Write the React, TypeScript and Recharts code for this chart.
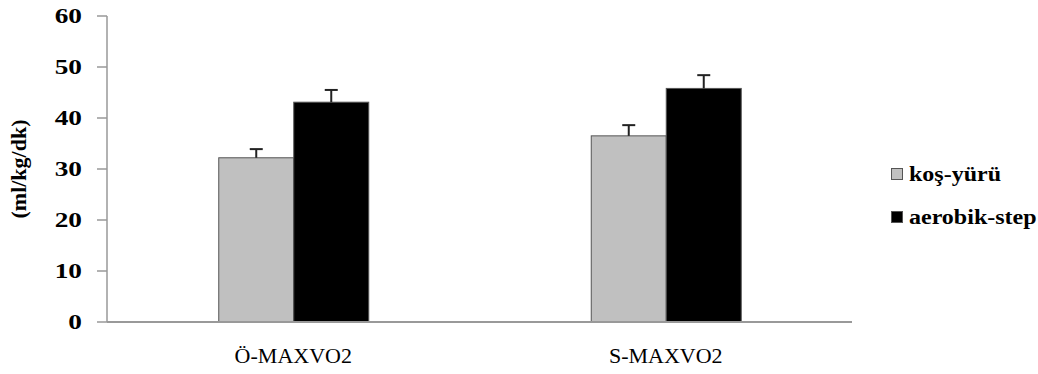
import React from "react";
import { BarChart, Bar, XAxis, YAxis, Legend } from "recharts";

const categories = ["Ö-MAXVO2", "S-MAXVO2"];
const kosYuru = [32.2, 36.5];
const kosYuruErr = [1.7, 2.1];
const aerobikStep = [43.1, 45.8];
const aerobikStepErr = [2.4, 2.6];
const yTicks = [0, 10, 20, 30, 40, 50, 60];
const seriesNames = ["koş-yürü", "aerobik-step"];

const data = categories.map((c, i) => ({
  name: c,
  a: kosYuru[i],
  aErr: kosYuruErr[i],
  b: aerobikStep[i],
  bErr: aerobikStepErr[i],
}));

const FONT = "'Liberation Serif', 'Times New Roman', serif";

const YTick = (props: any) => {
  const { x, y, payload } = props;
  return (
    <g transform={`translate(${x},${y}) scale(1.3,1)`}>
      <text x={0} y={0} dy={7} textAnchor="end" fontFamily={FONT} fontWeight="bold" fontSize={21} fill="#000">
        {payload.value}
      </text>
    </g>
  );
};

const XTick = (props: any) => {
  const { x, y, payload } = props;
  return (
    <g transform={`translate(${x},${y}) scale(1.1,1)`}>
      <text x={0} y={0} dy={33} textAnchor="middle" fontFamily={FONT} fontSize={20} fill="#000">
        {payload.value}
      </text>
    </g>
  );
};

const YLabel = (props: any) => {
  const { viewBox } = props;
  const cy = viewBox.y + viewBox.height / 2;
  return (
    <text
      x={26}
      y={cy}
      transform={`rotate(-90, 26, ${cy})`}
      textAnchor="middle"
      fontFamily={FONT}
      fontWeight="bold"
      fontSize={22}
      fill="#000"
    >
      (ml/kg/dk)
    </text>
  );
};

const colors = ["#c0c0c0", "#000000"];

// Bar with an upward-only error whisker; whisker length uses the bar's own pixel scale
const makeShape = (errKey: string, valueKey: string) => (props: any) => {
  const { x, y, width, height, fill, payload } = props;
  const value = payload[valueKey];
  const err = payload[errKey];
  const pxPerUnit = value ? height / value : 0;
  const cx = x + width / 2;
  const top = y - err * pxPerUnit;
  return (
    <g>
      <rect x={x} y={y} width={width} height={height} fill={fill} stroke="#555" strokeWidth={1} />
      <line x1={cx} y1={y} x2={cx} y2={top} stroke="#222" strokeWidth={2} />
      <line x1={cx - 6.5} y1={top} x2={cx + 6.5} y2={top} stroke="#222" strokeWidth={2} />
    </g>
  );
};

const LegendContent = () => (
  <div style={{ fontFamily: FONT, fontWeight: "bold", fontSize: 20, color: "#000" }}>
    {seriesNames.map((n, i) => (
      <div key={n} style={{ display: "flex", alignItems: "center", height: 22, marginBottom: i === 0 ? 21 : 0 }}>
        <span
          style={{
            display: "inline-block",
            width: 10,
            height: 10,
            background: colors[i],
            border: "1px solid #555",
            marginRight: 6,
          }}
        />
        <span style={{ display: "inline-block", transform: "scaleX(1.2)", transformOrigin: "left center", whiteSpace: "nowrap" }}>
          {n}
        </span>
      </div>
    ))}
  </div>
);

export default function App() {
  return (
    <div style={{ position: "absolute", left: 0, top: 0, background: "#fff" }}>
      <BarChart
        width={1038}
        height={374}
        data={data}
        margin={{ top: 16, right: 38, bottom: 22, left: 27 }}
        barCategoryGap="30%"
        barGap={0}
      >
        <XAxis
          dataKey="name"
          height={30}
          tickLine={false}
          axisLine={{ stroke: "#999", strokeWidth: 2 }}
          tick={<XTick />}
          interval={0}
        />
        <YAxis
          width={80}
          domain={[0, 60]}
          ticks={yTicks}
          interval={0}
          tickSize={10}
          tickMargin={15}
          axisLine={{ stroke: "#999", strokeWidth: 1.5 }}
          tickLine={{ stroke: "#999", strokeWidth: 1.5 }}
          tick={<YTick />}
          label={<YLabel />}
        />
        <Legend
          layout="vertical"
          align="right"
          verticalAlign="middle"
          content={<LegendContent />}
          wrapperStyle={{ left: 891, top: 163, width: 148, right: "auto" }}
        />
        <Bar
          dataKey="a"
          name={seriesNames[0]}
          fill={colors[0]}
          isAnimationActive={false}
          shape={makeShape("aErr", "a")}
        />
        <Bar
          dataKey="b"
          name={seriesNames[1]}
          fill={colors[1]}
          isAnimationActive={false}
          shape={makeShape("bErr", "b")}
        />
      </BarChart>
    </div>
  );
}
